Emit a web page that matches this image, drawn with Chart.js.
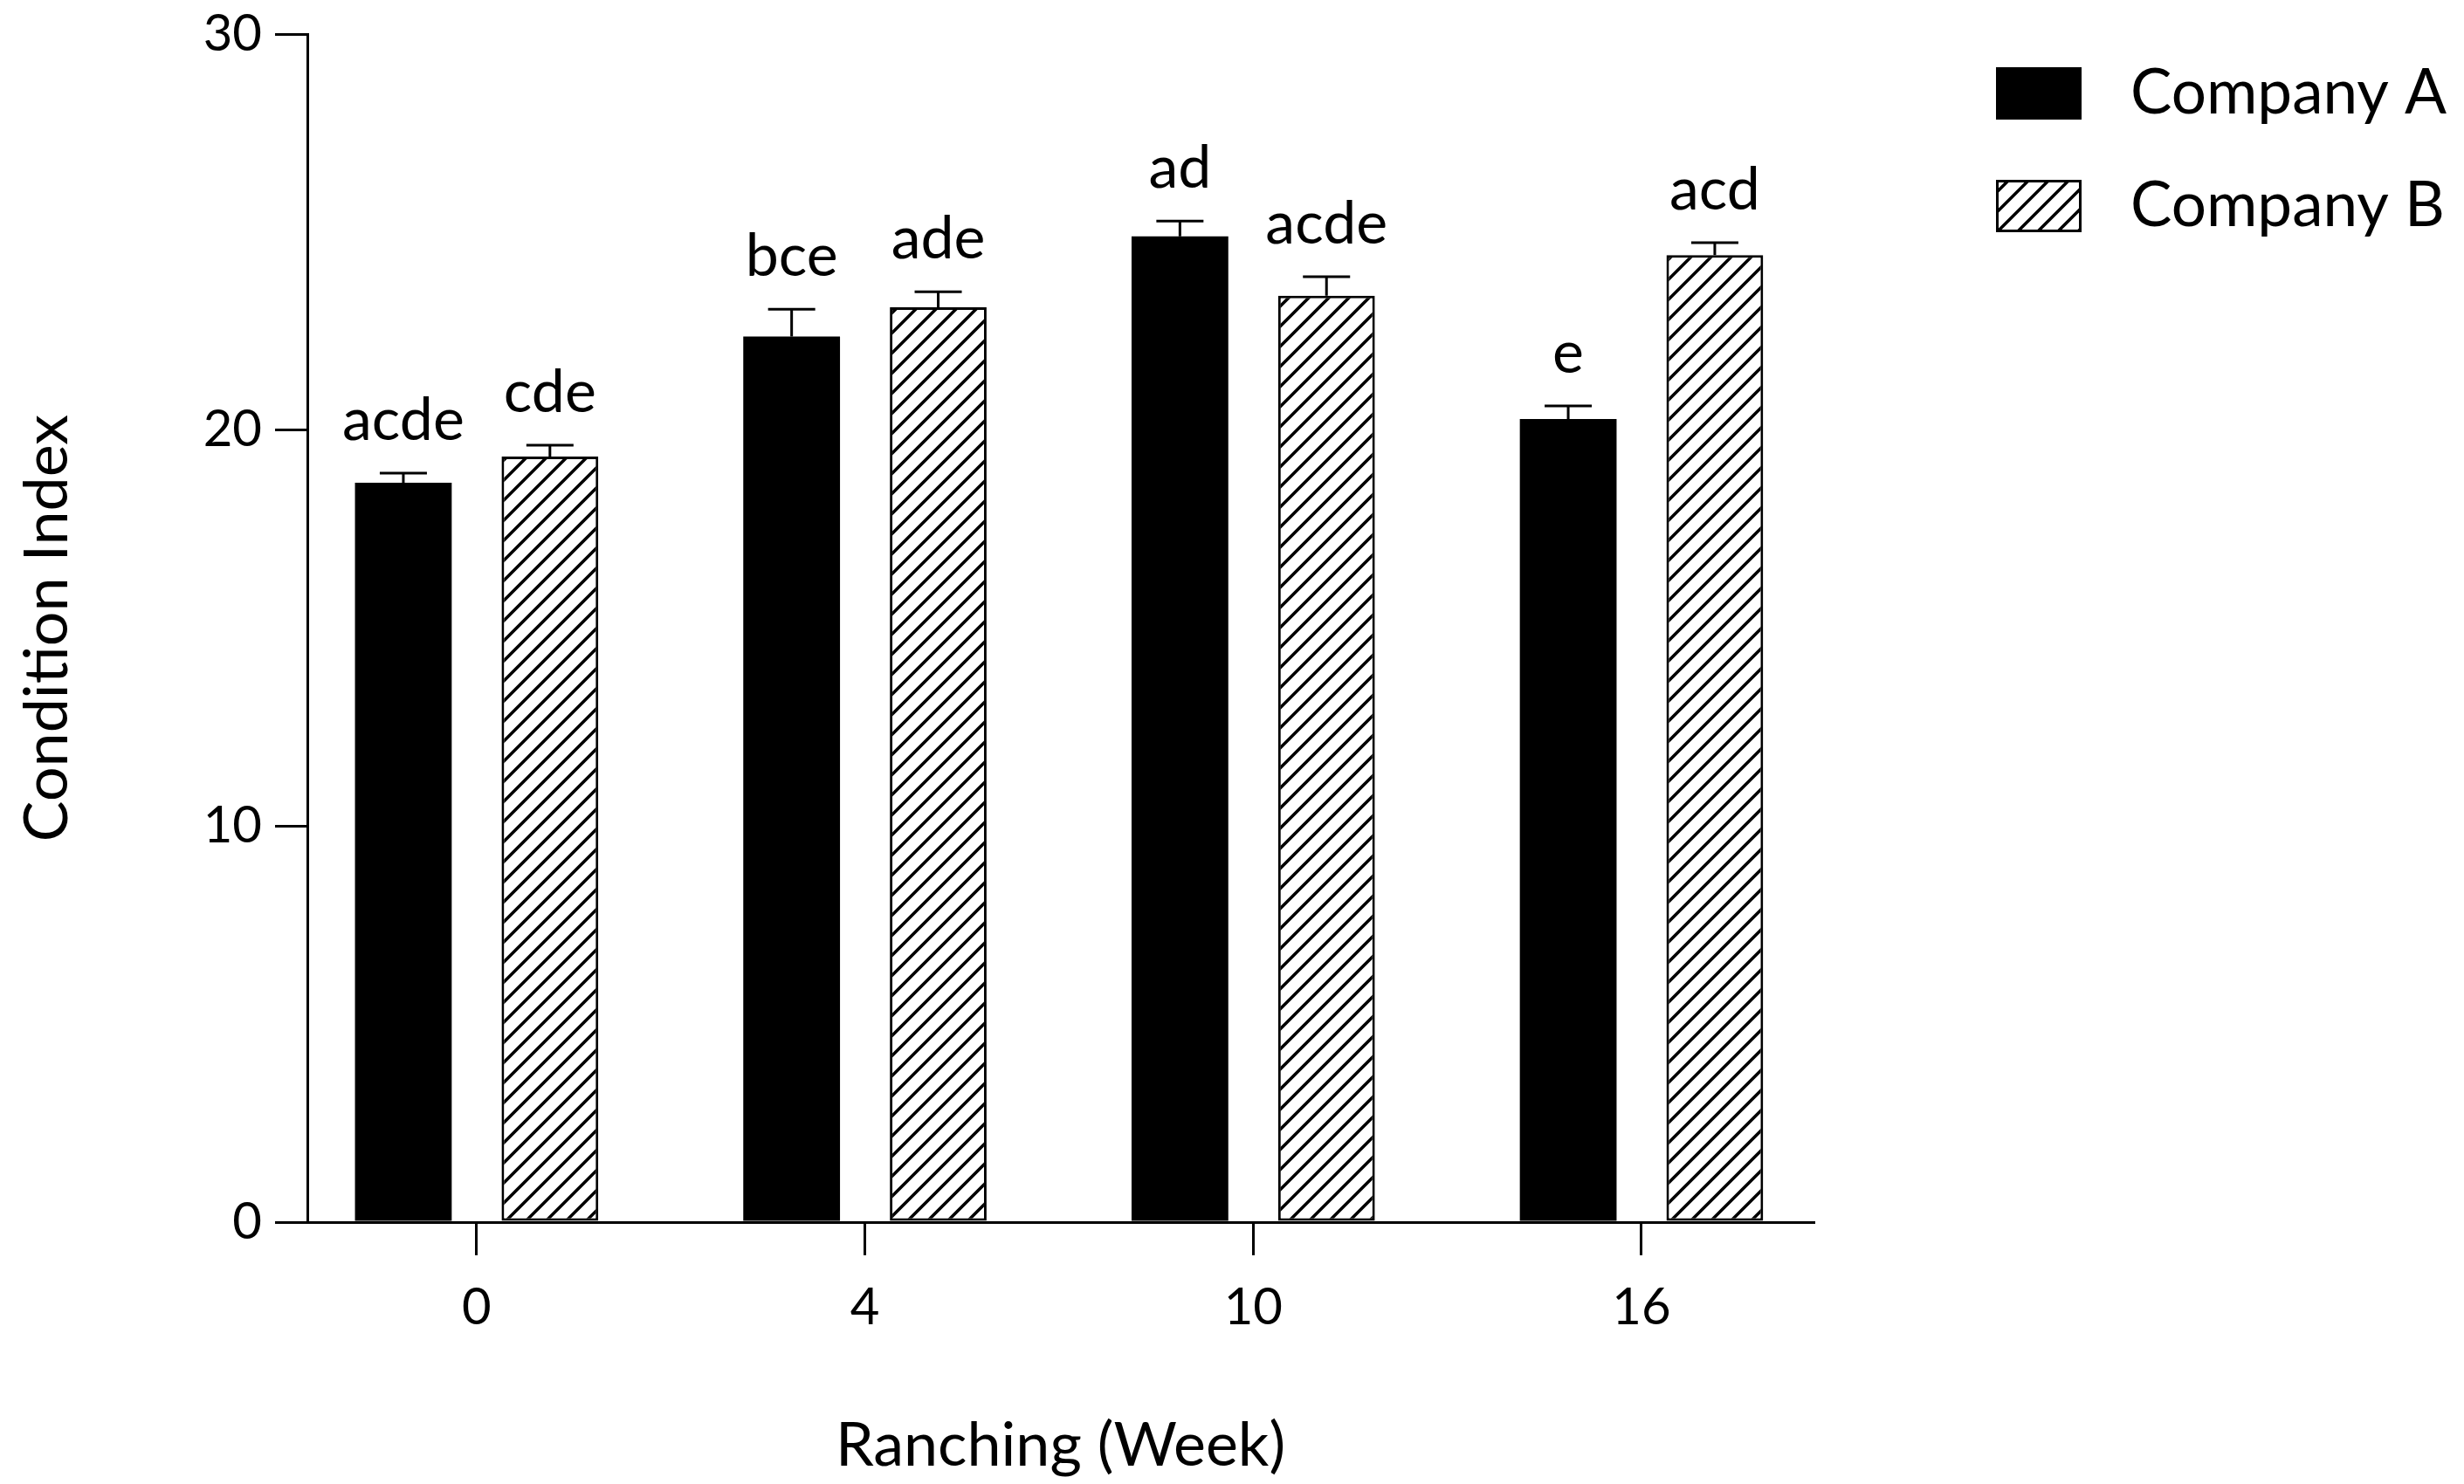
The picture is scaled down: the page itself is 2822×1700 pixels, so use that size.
<!DOCTYPE html>
<html>
<head>
<meta charset="utf-8">
<script src="https://cdn.jsdelivr.net/npm/chart.js@4.4.1/dist/chart.umd.min.js"></script>
<style>
  body { margin: 0; background: #fff; }
  #wrap { width: 2822px; height: 1700px; }
</style>
</head>
<body>
<div id="wrap"><canvas id="chart"></canvas></div>
<script>
// data
const weeks = ['0', '4', '10', '16'];
const companyA = [18.67, 22.36, 24.89, 20.28];
const companyB = [19.33, 23.10, 23.39, 24.42];
const errA = [0.24, 0.69, 0.39, 0.33];
const errB = [0.29, 0.39, 0.48, 0.31];
const lettersA = ['acde', 'bce', 'ad', 'e'];
const lettersB = ['cde', 'ade', 'acde', 'acd'];
const yTicks = [0, 10, 20, 30];

Chart.defaults.font.family = 'Lato';
Chart.defaults.color = '#000';

const canvas = document.getElementById('chart');
const ctx = canvas.getContext('2d');

function hatch() {
  const s = 23;
  const c = document.createElement('canvas');
  c.width = s; c.height = s;
  const g = c.getContext('2d');
  g.fillStyle = '#fff';
  g.fillRect(0, 0, s, s);
  g.strokeStyle = '#000';
  g.lineWidth = 3.6;
  g.beginPath();
  g.moveTo(0, s); g.lineTo(s, 0);
  g.moveTo(-s / 2, s / 2); g.lineTo(s / 2, -s / 2);
  g.moveTo(s / 2, s * 1.5); g.lineTo(s * 1.5, s / 2);
  g.stroke();
  return ctx.createPattern(c, 'repeat');
}
const stripes = hatch();

// error caps + significance letters
const errorBars = {
  id: 'errorBars',
  afterDatasetsDraw(chart) {
    const c = chart.ctx;
    const y = chart.scales.y;
    const errs = [errA, errB];
    const letters = [lettersA, lettersB];
    c.save();
    c.strokeStyle = '#000';
    c.fillStyle = '#000';
    c.lineWidth = 3;
    c.font = '68px Lato';
    c.textAlign = 'center';
    c.textBaseline = 'alphabetic';
    chart.data.datasets.forEach((ds, di) => {
      chart.getDatasetMeta(di).data.forEach((bar, i) => {
        const top = y.getPixelForValue(ds.data[i].y + errs[di][i]);
        c.beginPath();
        c.moveTo(bar.x, bar.y);
        c.lineTo(bar.x, top);
        c.moveTo(bar.x - 27, top);
        c.lineTo(bar.x + 27, top);
        c.stroke();
        c.fillText(letters[di][i], bar.x, top - 38);
      });
    });
    c.restore();
  }
};

const legendBoxes = {
  id: 'legendBoxes',
  afterDraw(chart) {
    const c = chart.ctx;
    c.save();
    c.font = '71px Lato';
    c.textBaseline = 'middle';
    c.textAlign = 'left';
    chart.data.datasets.forEach((ds, i) => {
      const bx = 2286, by = 77 + i * 129, bw = 98, bh = 60;
      c.fillStyle = ds.backgroundColor;
      c.fillRect(bx, by, bw, bh);
      if (ds.borderWidth) {
        c.strokeStyle = '#000';
        c.lineWidth = 3;
        c.strokeRect(bx + 1.5, by + 1.5, bw - 3, bh - 3);
      }
      c.fillStyle = '#000';
      c.fillText(ds.label, 2440, by + bh / 2);
    });
    c.restore();
  }
};

new Chart(ctx, {
  type: 'bar',
  data: {
    datasets: [
      {
        label: 'Company A',
        data: companyA.map((v, i) => ({ x: i, y: v })),
        backgroundColor: '#000',
        borderWidth: 0
      },
      {
        label: 'Company B',
        data: companyB.map((v, i) => ({ x: i, y: v })),
        backgroundColor: stripes,
        borderColor: '#000',
        borderWidth: 3,
        borderSkipped: false
      }
    ]
  },
  options: {
    responsive: true,
    maintainAspectRatio: false,
    animation: false,
    categoryPercentage: 0.755,
    barPercentage: 0.66,
    layout: { padding: { left: 0, right: 745, top: 39, bottom: 0 } },
    plugins: { legend: { display: false }, tooltip: { enabled: false } },
    scales: {
      x: {
        type: 'linear',
        min: -0.436,
        max: 3.443,
        offset: false,
        afterBuildTicks: s => { s.ticks = weeks.map((w, i) => ({ value: i })); },
        afterFit: s => { s.height = 300; s.paddingLeft = 0; s.paddingRight = 0; },
        ticks: {
          callback: v => weeks[v],
          font: { size: 58 },
          padding: 25,
          maxRotation: 0,
          autoSkip: false
        },
        grid: { drawOnChartArea: false, offset: false, tickLength: 38, color: '#000', lineWidth: 3 },
        border: { color: '#000', width: 3 },
        title: { display: true, text: 'Ranching (Week)', font: { size: 70 }, padding: { top: 0, bottom: 2 } }
      },
      y: {
        min: 0,
        max: 30,
        afterBuildTicks: s => { s.ticks = yTicks.map(v => ({ value: v })); },
        afterFit: s => { s.width = 352; s.paddingTop = 0; s.paddingBottom = 0; },
        ticks: { font: { size: 58 }, padding: 15 },
        grid: { drawOnChartArea: false, tickLength: 37, color: '#000', lineWidth: 3 },
        border: { color: '#000', width: 3 },
        title: { display: true, text: 'Condition Index', font: { size: 70 }, padding: { top: 12, bottom: 0 } }
      }
    }
  },
  plugins: [errorBars, legendBoxes]
});
</script>
</body>
</html>
